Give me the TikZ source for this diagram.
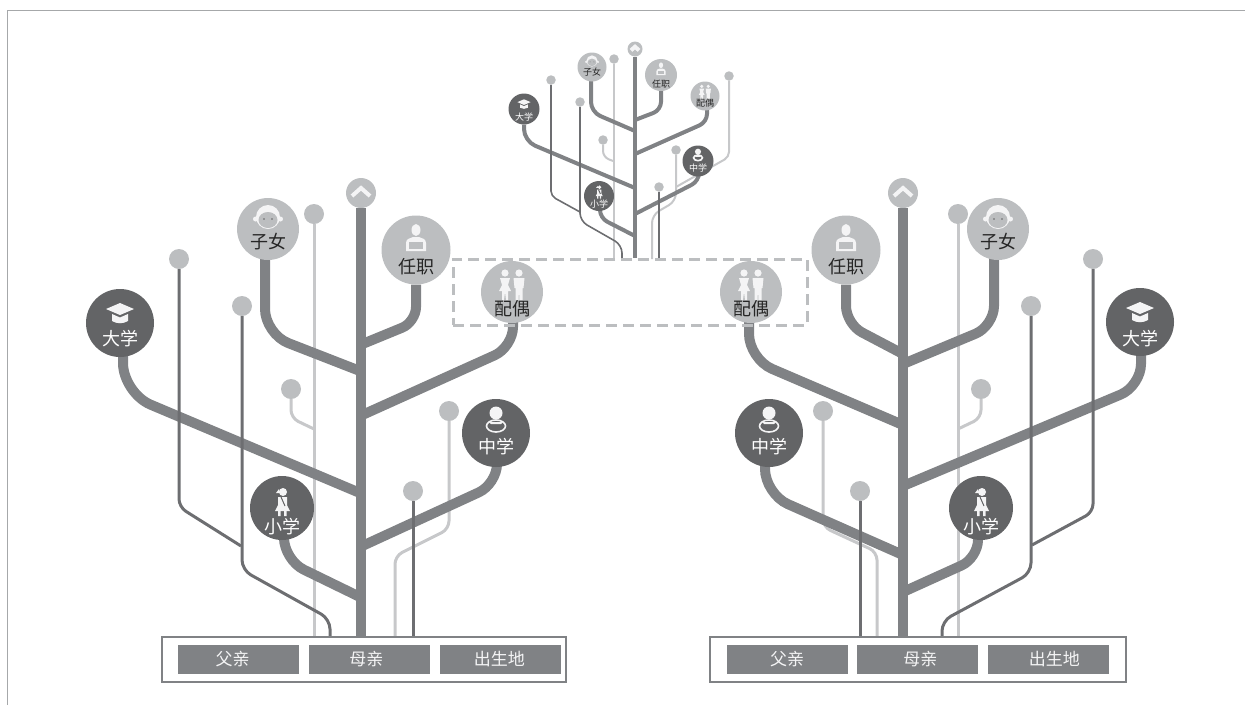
\documentclass[tikz,border=0pt]{standalone}
\usepackage{fontspec}
\newfontfamily\cjk{Noto Sans CJK SC}
\usetikzlibrary{positioning,backgrounds}
\definecolor{stem}{HTML}{808285}
\definecolor{inkdark}{HTML}{636466}
\definecolor{inklight}{HTML}{BCBEC0}
\definecolor{twig}{HTML}{6D6E71}
\definecolor{pale}{HTML}{C7C8CA}
\definecolor{icon}{HTML}{F4F4F5}
\tikzset{
	dark node/.style={circle,inner sep=0pt,fill=inkdark,minimum size=#1},
	light node/.style={circle,inner sep=0pt,fill=inklight,minimum size=#1},
	dot node/.style={circle,inner sep=0pt,fill=inklight,minimum size=20pt},
	small dot/.style={circle,inner sep=0pt,fill=inklight,minimum size=9.5pt},
	wtext/.style={text=white,inner sep=0pt,font=\cjk\fontsize{18}{18}\selectfont},
	btext/.style={text=black!85,inner sep=0pt,font=\cjk\fontsize{18}{18}\selectfont},
	swtext/.style={text=white,inner sep=0pt,font=\cjk\fontsize{9}{9}\selectfont},
	sbtext/.style={text=black!85,inner sep=0pt,font=\cjk\fontsize{9}{9}\selectfont},
	tag/.style={fill=stem,text=icon,inner sep=0pt,minimum width=121pt,minimum height=29pt,font=\cjk\fontsize{17}{17}\selectfont},
	bar/.style={draw=stem,line width=2pt,fill=white,inner sep=0pt},
	dash box/.style={draw=inklight,line width=3pt,dash pattern=on 11pt off 6pt,inner sep=0pt},
	trunk/.style={draw=stem,line width=10pt},
	limb/.style={draw=stem,line width=10pt,rounded corners=#1},
	thin dark/.style={draw=twig,line width=3pt,rounded corners=#1},
	thin pale/.style={draw=pale,line width=3pt,rounded corners=#1},
	strunk/.style={draw=stem,line width=4.5pt},
	slimb/.style={draw=stem,line width=4pt,rounded corners=#1},
	sdark/.style={draw=twig,line width=1.6pt,rounded corners=#1},
	spale/.style={draw=pale,line width=2pt,rounded corners=#1},
	pics/chevron/.style={code={\draw[icon,line width=4pt] (-9,3) -- (0,-5) -- (9,3);}},
	pics/hat/.style={code={
		\fill[icon] (-14,-4) -- (0,-10) -- (14,-4) -- (0,2) -- cycle;
		\fill[icon] (-8,1) -- (0,4.5) -- (8,1) -- (8,8) .. controls (3,11) and (-3,11) .. (-8,8) -- cycle;}},
	pics/boy/.style={code={
		\fill[icon] (0,0) circle (12);
		\fill[icon] (-12.5,2) circle (2.5) (12.5,2) circle (2.5);
		\fill[inklight] (0,3) ellipse (9.5 and 8);
		\fill[inkdark] (-4,2) circle (.9) (4,2) circle (.9);}},
	pics/worker/.style={code={
		\fill[icon] (0,-8) ellipse (4.5 and 6);
		\fill[icon] (-10,13) -- (-10,5) .. controls (-10,1) and (-6,0) .. (-3,-1) -- (3,-1) .. controls (6,0) and (10,1) .. (10,5) -- (10,13) -- cycle;
		\fill[inklight] (-7,4) rectangle (7,11);}},
	pics/couple/.style={code={
		\fill[icon] (-7,-12) circle (3.6) (7,-12) circle (3.6);
		\fill[icon] (-12,-7) -- (-2,-7) -- (-4,0) -- (-1,6) -- (-4,6) -- (-4,15) -- (-6,15) -- (-7,7) -- (-8,15) -- (-10,15) -- (-10,6) -- (-13,6) -- (-10,0) -- cycle;
		\fill[icon] (1.5,-7) -- (12.5,-7) -- (11.5,3) -- (10.5,3) -- (10.5,15) -- (7.5,15) -- (7,5) -- (6.5,15) -- (3.5,15) -- (3.5,3) -- (2.5,3) -- cycle;}},
	pics/reader/.style={code={
		\fill[icon] (0,-7) circle (6.5);
		\draw[icon,line width=1.6pt] (0,6) ellipse (9.5 and 6);
		\fill[icon] (-7,2) -- (7,2) -- (5,4) -- (-5,4) -- cycle;}},
	pics/girl/.style={code={
		\fill[icon] (1,-10) circle (4);
		\fill[icon] (-3,-13) -- (-6,-9) -- (-2,-9) -- cycle;
		\fill[icon] (-4,-5) -- (5,-5) -- (5,3) -- (8,9) -- (-7,9) -- (-4,3) -- cycle;
		\fill[icon] (-4,9) rectangle (-1.5,14) (2,9) rectangle (4.5,14);
		\draw[inkdark,line width=1pt] (-1,-5) -- (3,4);}}
}

\begin{document}
\begin{tikzpicture}[x=1pt,y=-1pt]
		\useasboundingbox (0,0) rectangle (1245,705);
		\draw[stem!70,line width=1pt] (7,705) -- (7,10) -- (1245,10);

		% small tree at the top
		\node[light node=15pt] (stop) at (635,49) {};
		\pic[scale=.45] at (635,49) {chevron};
		\node[light node=29pt] (szn) at (592,67) {}; \pic[scale=.47] at (592,61) {boy}; \node[sbtext] (sznt) at (592,72) {子女};
		\node[light node=32pt] (srz) at (661,75) {}; \pic[scale=.47] at (661,69) {worker}; \node[sbtext] (srzt) at (661,84) {任职};
		\node[light node=29pt] (spo) at (705,96) {}; \pic[scale=.47] at (705,92) {couple}; \node[sbtext] (spot) at (705,103) {配偶};
		\node[dark node=31pt] (sdx) at (524,109) {}; \pic[scale=.47] at (524,104) {hat}; \node[swtext] (sdxt) at (524,117) {大学};
		\node[dark node=31pt] (szx) at (698,161) {}; \pic[scale=.47] at (698,155) {reader}; \node[swtext] (szxt) at (698,168) {中学};
		\node[dark node=30pt] (sxx) at (599,196) {}; \pic[scale=.47] at (599,192) {girl}; \node[swtext] (sxxt) at (599,204) {小学};
		\node[small dot] (s1) at (614,59) {};
		\node[small dot] (s2) at (603,140) {};
		\node[small dot] (s3) at (551,80) {};
		\node[small dot] (s4) at (580,102) {};
		\node[small dot] (s5) at (729,76) {};
		\node[small dot] (s6) at (676,150) {};
		\node[small dot] (s7) at (659,187) {};
		\node[dash box,minimum width=354pt,minimum height=66pt] (frame) at (630,292) {};

		% left tree
		\node[light node=30pt] (ltop) at (361,193) {};
		\pic at (361,193) {chevron};
		\node[light node=62pt] (lzn) at (268,229) {}; \pic at (268,217) {boy}; \node[btext] (lznt) at (268,242) {子女};
		\node[light node=69pt] (lrz) at (416,250) {}; \pic at (416,238) {worker}; \node[btext] (lrzt) at (416,267) {任职};
		\node[light node=62pt] (lpo) at (512,292) {}; \pic at (512,285) {couple}; \node[btext] (lpot) at (512,309) {配偶};
		\node[dark node=68pt] (ldx) at (120,323) {}; \pic at (120,313) {hat}; \node[wtext] (ldxt) at (120,339) {大学};
		\node[dark node=68pt] (lzx) at (496,433) {}; \pic at (496,420) {reader}; \node[wtext] (lzxt) at (496,447) {中学};
		\node[dark node=64pt] (lxx) at (282,508) {}; \pic at (282,502) {girl}; \node[wtext] (lxxt) at (282,527) {小学};
		\node[dot node] (l1) at (314,214) {};
		\node[dot node] (l2) at (291,389) {};
		\node[dot node] (l3) at (179,259) {};
		\node[dot node] (l4) at (242,306) {};
		\node[dot node] (l5) at (449,411) {};
		\node[dot node] (l6) at (413,491) {};
		\node[bar,minimum width=404pt,minimum height=45pt] (lbar) at (364,659) {};
		\node[tag] (lfa) at (238.5,659) {\hspace*{-12pt}父亲};
		\node[tag,right=9.5pt of lfa] (lmo) {\hspace*{-6pt}母亲};
		\node[tag,right=9.5pt of lmo] (lbp) {\hspace*{-2pt}出生地};

		% right tree
		\node[light node=30pt] (rtop) at (903,193) {};
		\pic at (903,193) {chevron};
		\node[light node=69pt] (rrz) at (846,250) {}; \pic at (846,238) {worker}; \node[btext] (rrzt) at (846,267) {任职};
		\node[light node=62pt] (rzn) at (998,229) {}; \pic at (998,217) {boy}; \node[btext] (rznt) at (998,242) {子女};
		\node[light node=62pt] (rpo) at (751,292) {}; \pic at (751,285) {couple}; \node[btext] (rpot) at (751,309) {配偶};
		\node[dark node=68pt] (rdx) at (1140,322) {}; \pic at (1140,312) {hat}; \node[wtext] (rdxt) at (1140,339) {大学};
		\node[dark node=68pt] (rzx) at (769,433) {}; \pic at (769,420) {reader}; \node[wtext] (rzxt) at (769,447) {中学};
		\node[dark node=64pt] (rxx) at (981,508) {}; \pic at (981,502) {girl}; \node[wtext] (rxxt) at (981,527) {小学};
		\node[dot node] (r1) at (958,214) {};
		\node[dot node] (r2) at (981,389) {};
		\node[dot node] (r3) at (1093,259) {};
		\node[dot node] (r4) at (1031,306) {};
		\node[dot node] (r5) at (823,411) {};
		\node[dot node] (r6) at (860,491) {};
		\node[bar,minimum width=416pt,minimum height=45pt] (rbar) at (918,659) {};
		\node[tag] (rfa) at (787,659) {父亲};
		\node[tag,right=9.5pt of rfa] (rmo) {\hspace*{5pt}母亲};
		\node[tag,right=9.5pt of rmo] (rbp) {\hspace*{11pt}出生地};

		\begin{scope}[on background layer]
		% pale twigs lie under the limbs
		\draw[spale=6pt] (s2) -- (603,157) -- (613,161);
		\draw[spale=5pt] (s5) -- (729,157) -- (676,187);
		\draw[spale=8pt] (s6) -- (676,201) -- (652,215) -- (652,259);
		\draw[spale=0pt] (s1) -- (s1 |- frame.north);
		\draw[thin pale=0pt] (l1) -- (l1 |- lbar.north);
		\draw[thin pale=8pt] (l2) -- (291,418) -- (314,429);
		\draw[thin pale=8pt] (l5) -- (449,529) -- (395,556) -- (395,640);
		\draw[thin pale=0pt] (r1) -- (r1 |- rbar.north);
		\draw[thin pale=8pt] (r2) -- (981,418) -- (958,429);
		\draw[thin pale=8pt] (r5) -- (823,527) -- (877,552) -- (877,640);

		% limbs of the small tree
		\coordinate (sj1) at (635,131);
		\coordinate (sj2) at (635,120);
		\coordinate (sj3) at (635,154);
		\coordinate (sj4) at (635,188);
		\coordinate (sj5) at (635,214);
		\coordinate (sj6) at (635,236);
		\draw[strunk] (stop) -- (stop |- frame.north);
		\draw[slimb=10pt] (591,0 |- szn) -- (591,112) -- (sj1);
		\draw[slimb=8pt] (srz) -- (661,110) -- (sj2);
		\draw[slimb=8pt] (707,0 |- spo) -- (707,122) -- (sj3);
		\draw[slimb=12pt] (sdx) -- (524,141) -- (sj4);
		\draw[slimb=8pt] (699,0 |- szx) -- (699,181) -- (sj5);
		\draw[slimb=8pt] (600,0 |- sxx) -- (600,218) -- (sj6);

		% limbs of the left tree
		\coordinate (lj1) at (360,371);
		\coordinate (lj2) at (360,345);
		\coordinate (lj3) at (360,416);
		\coordinate (lj4) at (360,493);
		\coordinate (lj5) at (360,547);
		\coordinate (lj6) at (360,597);
		\draw[trunk] (ltop) -- (ltop |- lbar.north);
		\draw[limb=25pt] (265,0 |- lzn) -- (265,334) -- (lj1);
		\draw[limb=15pt] (lrz) -- (416,322) -- (lj2);
		\draw[limb=20pt] (513,0 |- lpo) -- (513,347) -- (lj3);
		\draw[limb=30pt] (123,0 |- ldx) -- (123,393) -- (lj4);
		\draw[limb=20pt] (497,0 |- lzx) -- (497,484) -- (lj5);
		\draw[limb=22pt] (284,0 |- lxx) -- (284,560) -- (lj6);

		% limbs of the right tree
		\coordinate (rj1) at (903,354);
		\coordinate (rj2) at (903,364);
		\coordinate (rj3) at (903,425);
		\coordinate (rj4) at (903,486);
		\coordinate (rj5) at (903,555);
		\coordinate (rj6) at (903,592);
		\draw[trunk] (rtop) -- (rtop |- rbar.north);
		\draw[limb=18pt] (rrz) -- (846,324) -- (rj1);
		\draw[limb=20pt] (994,0 |- rzn) -- (994,326) -- (rj2);
		\draw[limb=25pt] (749,0 |- rpo) -- (749,359) -- (rj3);
		\draw[limb=22pt] (1141,0 |- rdx) -- (1141,386) -- (rj4);
		\draw[limb=25pt] (765,0 |- rzx) -- (765,494) -- (rj5);
		\draw[limb=18pt] (978,0 |- rxx) -- (978,558) -- (rj6);

		% dark twigs lie over them
		\draw[sdark=5pt] (s3) -- (551,196) -- (580,212);
		\draw[sdark=8pt] (s4) -- (580,221) -- (622,245) -- (622,259);
		\draw[sdark=0pt] (s7) -- (s7 |- frame.north);
		\draw[thin dark=8pt] (l3) -- (179,507) -- (241,546);
		\draw[thin dark=10pt] (l4) -- (242,570) -- (330,619) -- (330,640);
		\draw[thin dark=0pt] (l6) -- (l6 |- lbar.north);
		\draw[thin dark=8pt] (r3) -- (1093,512) -- (1032,545);
		\draw[thin dark=10pt] (r4) -- (1031,573) -- (942,621) -- (942,640);
		\draw[thin dark=0pt] (r6) -- (r6 |- rbar.north);
		\end{scope}
		\end{tikzpicture}
\end{document}
